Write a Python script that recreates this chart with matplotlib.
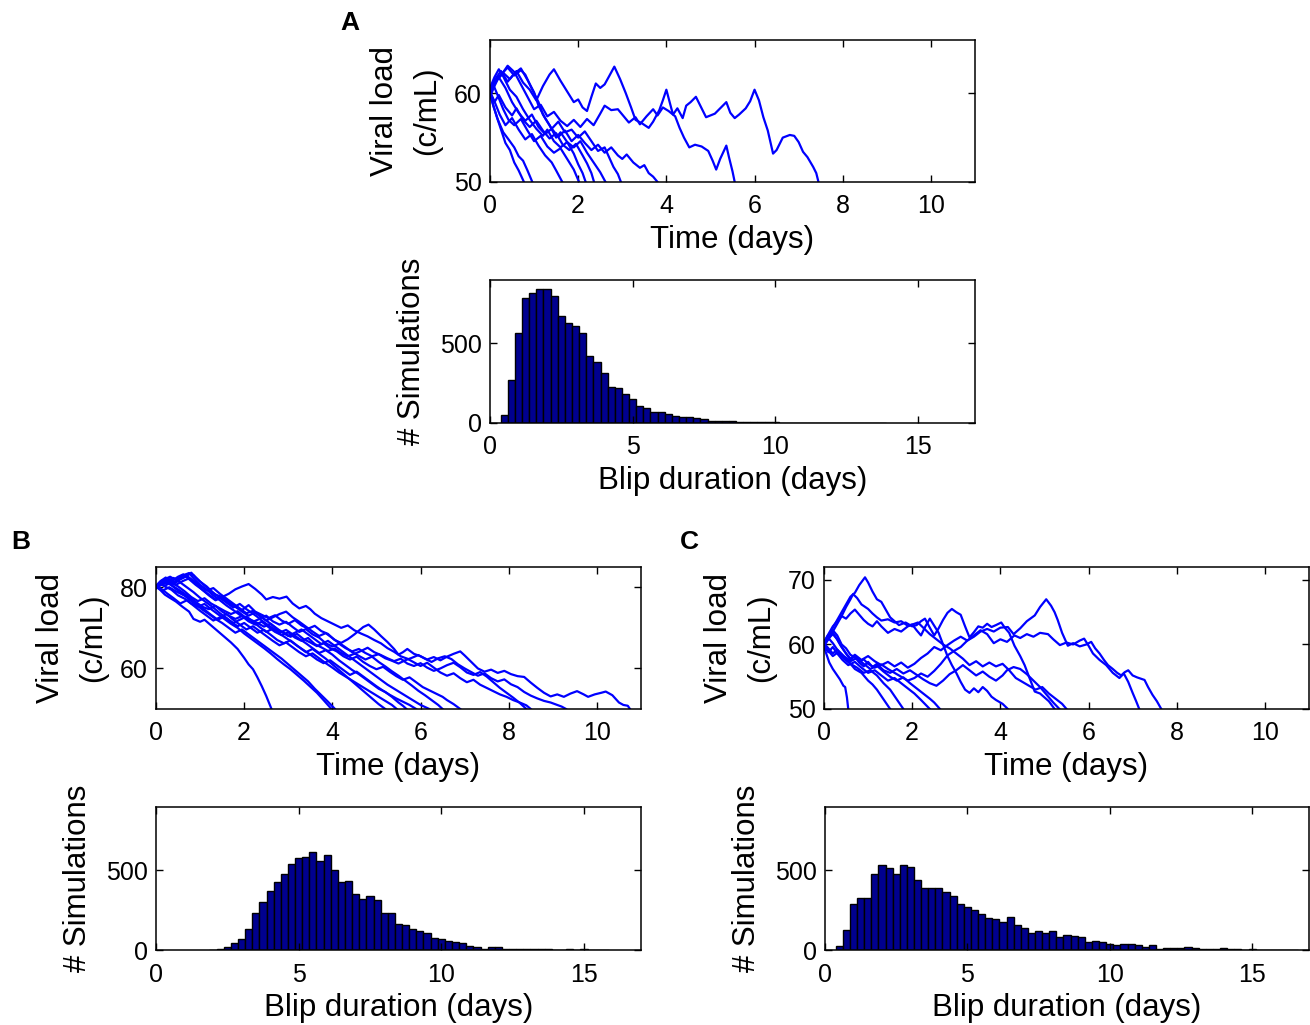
import numpy as np
import matplotlib
matplotlib.use("Agg")
import matplotlib.pyplot as plt

plt.rcParams['font.family'] = ['Liberation Sans', 'DejaVu Sans']

# ---------------- Panel A : trajectories (time, viral load) ----------------
A1 = [(0,60.2),(0.15,61.5),(0.3,62.3),(0.45,61.6),(0.6,62.5),(0.75,61.2),(0.9,60.4),(1.05,59.2),(1.2,60.8),(1.35,62.1),(1.45,62.7),(1.6,61.4),(1.75,60.2),(1.9,59.0),(2.0,59.3),(2.1,58.4),(2.2,58.0),(2.3,59.6),(2.4,61.1),(2.5,60.6),(2.6,61.0),(2.7,61.9),(2.82,63.0),(2.95,61.6),(3.08,60.0),(3.2,58.4),(3.3,57.0),(3.45,56.6),(3.6,56.1),(3.7,56.8),(3.84,58.1),(3.92,59.2),(4.0,60.4),(4.08,58.9),(4.15,57.6),(4.25,58.3),(4.37,57.2),(4.45,58.6),(4.55,59.0),(4.67,59.6),(4.78,58.5),(4.9,57.3),(5.0,57.5),(5.1,57.7),(5.2,58.2),(5.36,59.0),(5.45,57.8),(5.55,57.2),(5.65,57.6),(5.8,58.3),(5.9,59.1),(6.0,60.4),(6.1,59.2),(6.2,57.3),(6.3,55.8),(6.42,53.2),(6.5,53.6),(6.64,55.0),(6.8,55.3),(6.9,55.2),(7.0,54.5),(7.1,53.4),(7.2,52.8),(7.33,51.7),(7.4,51.0),(7.45,50.0)]
A2 = [(0,60.0),(0.1,61.2),(0.25,62.0),(0.4,63.1),(0.55,62.4),(0.7,61.0),(0.85,59.6),(1.0,58.2),(1.15,58.7),(1.3,57.4),(1.45,57.9),(1.6,56.9),(1.75,56.3),(1.9,57.0),(2.05,56.2),(2.2,57.1),(2.35,56.4),(2.5,57.7),(2.6,58.6),(2.75,58.1),(2.9,58.2),(3.0,57.6),(3.15,56.7),(3.3,57.3),(3.4,56.5),(3.55,57.4),(3.7,58.2),(3.8,57.5),(3.92,58.4),(4.05,58.0),(4.2,57.4),(4.3,56.1),(4.4,55.0),(4.52,53.9),(4.65,54.2),(4.8,54.0),(4.95,53.5),(5.05,52.4),(5.13,51.4),(5.22,52.6),(5.36,54.1),(5.42,52.8),(5.5,51.2),(5.55,50.0)]
A3 = [(0,59.6),(0.1,60.8),(0.2,61.8),(0.35,60.6),(0.5,59.0),(0.65,57.8),(0.8,56.9),(0.95,57.6),(1.1,56.2),(1.25,55.4),(1.4,56.0),(1.55,55.1),(1.7,55.8),(1.85,54.6),(2.0,55.3),(2.15,54.4),(2.3,53.6),(2.45,54.2),(2.6,53.3),(2.75,53.9),(2.9,53.0),(3.0,52.6),(3.1,53.1),(3.25,52.2),(3.4,51.6),(3.5,51.9),(3.6,51.0),(3.7,50.6),(3.8,50.0)]
A4 = [(0,60.4),(0.12,61.6),(0.25,62.5),(0.4,61.3),(0.55,62.2),(0.7,62.8),(0.85,61.5),(1.0,60.1),(1.1,58.6),(1.25,57.2),(1.4,56.0),(1.55,56.8),(1.7,55.6),(1.85,55.9),(2.0,55.0),(2.15,55.7),(2.3,54.6),(2.45,53.5),(2.6,53.9),(2.7,52.8),(2.8,51.7),(2.9,50.9),(2.97,50.0)]
A5 = [(0,60.0),(0.1,59.0),(0.2,59.8),(0.35,58.4),(0.5,57.5),(0.6,58.3),(0.75,57.0),(0.9,56.2),(1.05,56.9),(1.2,55.8),(1.35,54.9),(1.5,55.5),(1.65,54.2),(1.8,53.6),(1.95,54.3),(2.1,53.0),(2.2,52.1),(2.3,51.0),(2.36,50.0)]
A6 = [(0,60.6),(0.1,61.8),(0.2,62.7),(0.3,61.9),(0.45,60.4),(0.6,59.6),(0.75,58.2),(0.9,57.0),(1.05,56.0),(1.2,55.2),(1.3,55.9),(1.45,54.6),(1.6,53.9),(1.75,54.5),(1.9,53.2),(2.0,52.0),(2.1,51.0),(2.17,50.0)]
A7 = [(0,59.8),(0.08,60.9),(0.18,59.7),(0.3,58.2),(0.42,57.0),(0.55,56.4),(0.7,57.1),(0.85,55.8),(1.0,54.6),(1.15,55.2),(1.3,54.0),(1.45,53.3),(1.6,53.8),(1.75,52.6),(1.9,51.4),(2.02,50.0)]
A8 = [(0,60.2),(0.1,59.1),(0.22,57.6),(0.35,56.4),(0.5,57.2),(0.65,55.9),(0.8,54.8),(0.95,55.4),(1.1,54.1),(1.25,53.0),(1.4,52.2),(1.5,51.3),(1.64,50.0)]
A9 = [(0,59.9),(0.08,58.5),(0.18,57.0),(0.3,55.6),(0.42,54.8),(0.55,53.9),(0.65,52.9),(0.75,52.4),(0.85,51.3),(0.96,50.0)]
A10 = [(0,60.1),(0.06,58.9),(0.15,57.4),(0.25,55.9),(0.35,54.4),(0.45,53.6),(0.55,52.2),(0.65,51.3),(0.77,50.0)]
A11 = [(0,60.3),(0.12,61.4),(0.25,62.1),(0.4,62.9),(0.55,62.0),(0.7,62.6),(0.8,62.1),(0.95,60.5),(1.1,59.0),(1.2,57.6),(1.35,56.4),(1.5,55.0),(1.6,55.6),(1.75,54.5),(1.9,53.9),(2.05,54.6),(2.2,53.3),(2.35,52.2),(2.5,51.1),(2.62,50.0)]
A_paths = [A1, A2, A3, A4, A5, A6, A7, A8, A9, A10, A11]

# ---------------- Panel B : trajectories ----------------
B1 = [(0,80.0),(0.15,80.8),(0.3,81.2),(0.45,80.6),(0.6,81.5),(0.75,82.2),(0.9,81.0),(1.05,79.4),(1.2,78.0),(1.35,76.8),(1.5,77.5),(1.65,76.0),(1.8,75.2),(1.95,74.4),(2.1,75.6),(2.25,74.0),(2.4,73.2),(2.55,72.4),(2.7,73.1),(2.85,71.8),(3.0,71.0),(3.15,71.9),(3.3,70.6),(3.45,69.8),(3.6,70.5),(3.75,69.2),(3.9,68.5),(4.05,67.0),(4.2,66.3),(4.35,67.2),(4.5,68.4),(4.6,69.3),(4.7,70.2),(4.82,70.8),(4.95,69.6),(5.1,68.0),(5.25,66.5),(5.4,64.8),(5.5,63.4),(5.6,64.0),(5.7,64.8),(5.85,63.6),(6.0,63.0),(6.15,62.2),(6.3,62.8),(6.45,62.0),(6.6,62.9),(6.75,63.6),(6.9,64.2),(7.0,63.2),(7.15,61.6),(7.3,60.0),(7.45,59.2),(7.6,59.7),(7.75,58.9),(7.9,59.4),(8.05,58.6),(8.2,58.1),(8.35,57.9),(8.5,56.5),(8.65,55.2),(8.8,54.0),(8.95,53.1),(9.1,53.6),(9.25,53.0),(9.4,53.8),(9.55,54.4),(9.7,53.6),(9.8,53.0),(9.95,53.6),(10.1,54.0),(10.2,54.3),(10.35,53.4),(10.5,51.6),(10.6,51.0),(10.7,50.8),(10.75,50.0)]
B2 = [(0,80.2),(0.15,81.4),(0.3,82.0),(0.45,81.3),(0.6,82.6),(0.75,83.4),(0.85,83.0),(1.0,81.4),(1.15,80.2),(1.3,78.6),(1.45,77.4),(1.6,76.2),(1.75,75.0),(1.9,75.9),(2.05,74.6),(2.2,73.5),(2.35,72.3),(2.5,73.0),(2.65,71.6),(2.8,70.8),(2.95,71.5),(3.1,70.2),(3.25,69.0),(3.4,69.7),(3.55,68.4),(3.7,67.6),(3.85,66.2),(4.0,65.4),(4.15,66.1),(4.3,65.0),(4.45,64.2),(4.6,64.8),(4.75,63.8),(4.9,63.0),(5.05,63.5),(5.2,62.5),(5.35,61.9),(5.5,61.2),(5.65,62.0),(5.8,62.6),(5.95,63.3),(6.1,62.4),(6.25,61.6),(6.4,62.5),(6.55,63.0),(6.7,62.3),(6.85,61.0),(7.0,60.0),(7.15,59.1),(7.3,58.2),(7.45,58.8),(7.6,57.6),(7.75,56.8),(7.9,57.3),(8.05,56.1),(8.2,55.4),(8.35,54.2),(8.5,53.3),(8.65,52.6),(8.8,52.0),(8.95,51.6),(9.1,51.0),(9.2,50.6),(9.3,50.0)]
B3 = [(0,79.8),(0.1,80.6),(0.25,81.5),(0.4,80.8),(0.55,82.0),(0.7,82.8),(0.8,83.6),(0.9,82.4),(1.05,80.9),(1.2,79.5),(1.35,78.2),(1.5,77.6),(1.65,78.4),(1.8,79.5),(1.95,80.2),(2.1,80.8),(2.25,79.6),(2.4,78.2),(2.5,77.0),(2.65,77.6),(2.8,77.2),(2.96,77.7),(3.1,76.0),(3.25,74.8),(3.4,75.4),(3.5,74.6),(3.6,73.5),(3.75,72.4),(3.9,71.6),(4.05,70.8),(4.2,70.0),(4.35,70.6),(4.5,69.4),(4.65,68.6),(4.8,67.9),(4.95,67.0),(5.1,66.2),(5.25,65.0),(5.4,64.1),(5.55,63.0),(5.7,62.4),(5.85,61.5),(6.0,60.6),(6.15,61.4),(6.3,60.2),(6.45,59.0),(6.6,58.2),(6.75,58.8),(6.9,57.6),(7.05,56.6),(7.2,57.2),(7.35,56.0),(7.5,55.2),(7.65,54.4),(7.8,53.6),(7.95,53.0),(8.1,52.2),(8.25,51.6),(8.4,50.9),(8.5,50.0)]
B4 = [(0,80.1),(0.15,79.2),(0.3,80.0),(0.45,79.0),(0.6,78.2),(0.75,77.5),(0.9,76.4),(1.05,75.2),(1.2,74.6),(1.35,75.4),(1.5,74.0),(1.65,73.0),(1.8,72.2),(1.95,72.9),(2.1,71.6),(2.25,70.8),(2.4,71.5),(2.55,70.2),(2.7,69.0),(2.85,68.2),(3.0,68.9),(3.15,67.6),(3.3,66.8),(3.45,67.5),(3.6,66.0),(3.75,65.2),(3.9,64.3),(4.05,64.9),(4.2,63.8),(4.35,63.0),(4.5,63.6),(4.65,64.3),(4.8,65.1),(4.95,64.0),(5.1,63.3),(5.25,62.5),(5.4,61.8),(5.55,62.4),(5.7,61.2),(5.85,60.6),(6.0,61.3),(6.15,60.2),(6.3,59.4),(6.45,60.0),(6.6,60.8),(6.75,61.4),(6.9,60.3),(7.05,59.0),(7.2,58.4),(7.35,59.1),(7.5,58.0),(7.65,56.6),(7.8,55.2),(7.95,54.0),(8.1,52.8),(8.25,51.5),(8.4,50.0)]
B5 = [(0,80.0),(0.1,81.0),(0.2,80.4),(0.35,81.2),(0.5,80.2),(0.65,79.0),(0.8,77.6),(0.95,76.6),(1.1,77.3),(1.25,76.0),(1.4,75.1),(1.55,74.2),(1.7,73.4),(1.85,74.1),(2.0,72.8),(2.15,72.0),(2.3,71.2),(2.45,70.3),(2.6,71.0),(2.75,69.6),(2.9,68.8),(3.05,67.8),(3.2,68.5),(3.35,67.2),(3.5,66.4),(3.65,65.5),(3.8,66.2),(3.95,65.0),(4.1,64.2),(4.25,63.0),(4.4,62.2),(4.55,62.9),(4.7,61.6),(4.85,60.6),(5.0,59.8),(5.15,60.4),(5.3,59.2),(5.45,58.1),(5.6,57.2),(5.75,57.8),(5.9,56.6),(6.05,55.4),(6.2,54.6),(6.35,53.8),(6.5,53.0),(6.6,52.2),(6.75,51.2),(6.9,50.0)]
B6 = [(0,80.3),(0.12,81.6),(0.25,82.2),(0.4,81.0),(0.55,82.0),(0.7,82.8),(0.85,81.6),(1.0,80.4),(1.15,79.2),(1.3,79.8),(1.45,78.4),(1.6,77.2),(1.75,76.0),(1.9,74.8),(2.05,73.6),(2.2,74.2),(2.35,73.0),(2.5,71.8),(2.65,72.6),(2.8,73.4),(2.95,74.0),(3.1,72.6),(3.25,71.5),(3.4,70.3),(3.55,69.1),(3.7,68.0),(3.85,68.7),(4.0,67.5),(4.15,66.3),(4.3,65.2),(4.45,64.0),(4.6,63.1),(4.75,62.2),(4.9,62.9),(5.05,61.6),(5.2,60.5),(5.35,59.3),(5.5,58.2),(5.65,57.0),(5.8,55.8),(5.95,54.5),(6.1,53.4),(6.25,52.2),(6.4,51.0),(6.5,50.0)]
B7 = [(0,79.7),(0.1,80.6),(0.22,81.3),(0.35,80.5),(0.5,79.5),(0.65,78.4),(0.8,77.0),(0.95,75.8),(1.1,74.5),(1.25,73.2),(1.4,72.0),(1.55,72.8),(1.7,71.5),(1.85,70.4),(2.0,71.2),(2.15,70.0),(2.3,68.8),(2.45,69.5),(2.6,68.3),(2.75,67.0),(2.9,66.2),(3.05,66.9),(3.2,65.6),(3.35,64.5),(3.5,63.4),(3.65,62.2),(3.8,61.3),(3.95,62.0),(4.1,60.8),(4.25,59.6),(4.4,58.4),(4.55,59.2),(4.7,58.0),(4.85,56.8),(5.0,55.6),(5.15,54.5),(5.3,53.5),(5.45,52.6),(5.6,51.8),(5.75,51.0),(5.9,50.0)]
B8 = [(0,80.0),(0.1,81.2),(0.2,82.0),(0.32,82.6),(0.45,81.8),(0.6,82.9),(0.75,83.5),(0.85,82.2),(1.0,80.6),(1.15,79.4),(1.3,78.0),(1.45,76.8),(1.6,75.5),(1.75,74.4),(1.9,73.2),(2.05,72.4),(2.2,71.5),(2.35,72.2),(2.5,71.0),(2.65,69.9),(2.8,68.8),(2.95,69.5),(3.1,68.4),(3.25,67.3),(3.4,66.2),(3.55,65.0),(3.7,63.8),(3.85,64.5),(4.0,63.4),(4.15,62.0),(4.3,60.8),(4.45,59.6),(4.6,58.6),(4.75,57.4),(4.9,56.2),(5.05,55.0),(5.2,54.2),(5.35,53.0),(5.5,51.6),(5.6,50.8),(5.68,50.0)]
B9 = [(0,80.4),(0.12,79.6),(0.25,78.5),(0.4,77.3),(0.55,76.0),(0.7,76.8),(0.85,75.5),(1.0,74.2),(1.15,73.0),(1.3,71.8),(1.45,72.6),(1.6,73.4),(1.75,72.0),(1.9,70.8),(2.05,69.6),(2.2,70.4),(2.35,69.2),(2.5,68.0),(2.65,66.8),(2.8,65.7),(2.95,66.4),(3.1,65.2),(3.25,64.0),(3.4,63.0),(3.55,63.7),(3.7,62.5),(3.85,61.3),(4.0,60.2),(4.15,59.0),(4.3,58.0),(4.45,57.0),(4.6,56.0),(4.75,55.0),(4.9,54.0),(5.05,53.0),(5.2,52.0),(5.35,51.0),(5.46,50.0)]
B10 = [(0,80.1),(0.1,81.0),(0.2,81.8),(0.32,80.8),(0.45,79.6),(0.6,78.4),(0.75,77.0),(0.9,75.8),(1.05,74.5),(1.2,73.4),(1.35,72.2),(1.5,71.2),(1.65,70.0),(1.8,68.8),(1.95,69.6),(2.1,68.4),(2.25,67.2),(2.4,66.0),(2.55,64.8),(2.7,63.6),(2.85,62.4),(3.0,61.0),(3.15,59.6),(3.3,58.2),(3.45,56.8),(3.6,55.0),(3.75,53.4),(3.9,51.8),(4.06,50.0)]
B11 = [(0,79.9),(0.1,80.8),(0.2,80.2),(0.35,79.4),(0.5,78.0),(0.65,77.2),(0.8,76.0),(0.95,75.2),(1.1,75.9),(1.25,74.6),(1.4,73.4),(1.55,72.2),(1.7,71.0),(1.85,70.0),(2.0,68.6),(2.15,67.4),(2.3,66.2),(2.45,65.0),(2.6,63.7),(2.75,62.3),(2.9,61.0),(3.05,59.8),(3.2,58.4),(3.35,57.0),(3.5,55.5),(3.65,54.0),(3.8,52.2),(3.98,50.0)]
B12 = [(0,80.2),(0.1,79.3),(0.2,78.2),(0.3,77.5),(0.45,76.5),(0.6,75.2),(0.75,74.0),(0.85,72.2),(1.0,71.5),(1.1,72.0),(1.25,70.6),(1.4,69.2),(1.55,67.8),(1.7,66.4),(1.85,64.8),(2.0,62.6),(2.1,61.0),(2.2,59.8),(2.3,57.8),(2.4,55.6),(2.5,53.2),(2.62,50.0)]
B13 = [(0,80.0),(0.12,80.9),(0.25,81.6),(0.4,82.3),(0.55,81.2),(0.7,80.0),(0.85,78.8),(1.0,77.4),(1.15,76.2),(1.3,75.0),(1.45,73.6),(1.6,72.4),(1.75,71.2),(1.9,72.0),(2.05,72.8),(2.2,71.5),(2.35,70.2),(2.5,69.0),(2.65,69.8),(2.8,68.6),(2.95,67.5),(3.1,66.4),(3.25,65.2),(3.4,64.0),(3.55,64.8),(3.7,63.6),(3.85,62.4),(4.0,61.0),(4.15,59.6),(4.3,58.2),(4.45,56.8),(4.6,55.4),(4.75,54.0),(4.9,52.6),(5.05,51.2),(5.2,50.0)]
B14 = [(0,80.3),(0.1,81.5),(0.22,82.4),(0.35,81.5),(0.5,82.6),(0.62,83.2),(0.75,82.0),(0.9,80.6),(1.05,79.4),(1.2,78.2),(1.35,77.0),(1.5,77.8),(1.65,76.5),(1.8,75.2),(1.95,74.0),(2.1,73.0),(2.25,73.8),(2.4,72.6),(2.55,71.4),(2.7,70.2),(2.85,69.0),(3.0,68.0),(3.15,68.8),(3.3,69.6),(3.45,68.4),(3.6,67.2),(3.75,66.0),(3.9,66.8),(4.05,65.6),(4.2,64.4),(4.35,63.2),(4.5,62.0),(4.65,60.8),(4.8,59.6),(4.95,58.4),(5.1,57.2),(5.25,56.0),(5.4,55.0),(5.55,54.0),(5.7,53.0),(5.85,52.0),(6.0,51.0),(6.1,50.5),(6.2,50.0)]
B_paths = [B1, B2, B3, B4, B5, B6, B7, B8, B9, B10, B11, B12, B13, B14]

# ---------------- Panel C : trajectories ----------------
C1 = [(0,60.0),(0.1,61.2),(0.2,62.6),(0.3,63.8),(0.4,65.0),(0.5,66.2),(0.6,67.4),(0.7,68.0),(0.8,69.2),(0.93,70.4),(1.0,69.6),(1.1,68.2),(1.2,67.0),(1.3,66.6),(1.4,65.4),(1.5,64.2),(1.6,63.6),(1.7,63.0),(1.85,63.4),(2.0,62.8),(2.1,63.0),(2.2,63.6),(2.29,64.0),(2.4,62.6),(2.5,61.4),(2.6,62.5),(2.7,63.8),(2.8,64.9),(2.9,65.5),(3.0,65.0),(3.1,64.6),(3.2,62.8),(3.3,61.1),(3.4,61.9),(3.5,62.8),(3.6,62.6),(3.7,63.2),(3.8,62.7),(3.9,63.0),(4.02,63.4),(4.1,62.6),(4.2,61.8),(4.32,59.8),(4.45,58.2),(4.55,56.8),(4.65,55.0),(4.78,52.7),(4.9,52.4),(5.0,51.8),(5.1,51.2),(5.23,50.0)]
C2 = [(0,59.8),(0.1,60.8),(0.2,62.0),(0.3,63.2),(0.4,64.4),(0.5,65.8),(0.6,67.0),(0.66,67.8),(0.75,67.2),(0.85,66.2),(1.0,65.5),(1.1,64.8),(1.2,64.2),(1.3,63.7),(1.45,63.9),(1.6,63.4),(1.75,63.6),(1.9,62.9),(2.0,63.1),(2.1,62.2),(2.2,61.4),(2.3,62.8),(2.4,64.0),(2.5,62.9),(2.6,61.8),(2.7,60.0),(2.8,58.2),(2.9,56.8),(3.0,55.6),(3.1,54.2),(3.2,53.0),(3.3,52.5),(3.4,53.2),(3.5,52.6),(3.6,53.4),(3.7,52.8),(3.8,51.9),(3.9,51.4),(4.05,50.8),(4.17,50.0)]
C3 = [(0,60.2),(0.1,61.4),(0.2,62.2),(0.3,61.4),(0.4,60.0),(0.5,59.4),(0.6,58.4),(0.7,58.0),(0.8,57.3),(0.9,57.7),(1.0,57.0),(1.15,56.4),(1.3,56.9),(1.45,56.2),(1.6,55.6),(1.75,55.0),(1.9,54.4),(2.05,54.8),(2.2,55.5),(2.35,55.0),(2.5,55.9),(2.65,57.0),(2.8,58.3),(2.95,59.0),(3.1,59.6),(3.25,60.6),(3.4,61.2),(3.55,62.0),(3.7,62.4),(3.85,62.0),(4.0,62.6),(4.17,62.7),(4.3,61.6),(4.45,62.5),(4.6,63.6),(4.78,64.5),(4.9,65.8),(5.04,67.0),(5.15,66.0),(5.23,65.0),(5.3,63.8),(5.4,61.8),(5.53,59.8),(5.65,60.2),(5.8,59.7),(5.95,60.0),(6.06,60.4),(6.15,59.4),(6.25,58.6),(6.35,57.6),(6.44,56.8),(6.55,56.2),(6.65,55.6),(6.74,55.2),(6.82,55.7),(6.9,56.0),(7.0,55.2),(7.1,54.9),(7.27,54.5),(7.35,53.4),(7.45,52.2),(7.55,51.2),(7.65,50.0)]
C4 = [(0,59.9),(0.1,60.9),(0.2,61.6),(0.3,60.8),(0.4,59.6),(0.5,58.6),(0.6,57.8),(0.7,58.4),(0.85,57.6),(1.0,58.2),(1.15,57.4),(1.3,56.8),(1.45,57.3),(1.6,56.6),(1.75,57.2),(1.9,56.4),(2.05,57.0),(2.2,57.9),(2.35,58.6),(2.5,59.6),(2.65,59.1),(2.8,59.9),(2.95,60.6),(3.1,61.2),(3.25,60.6),(3.4,61.4),(3.55,62.2),(3.7,61.6),(3.85,60.2),(4.0,60.8),(4.15,60.4),(4.32,61.4),(4.45,61.0),(4.6,61.6),(4.75,61.2),(4.9,61.8),(5.08,61.6),(5.2,60.8),(5.35,59.9),(5.5,60.3),(5.65,60.0),(5.8,60.6),(5.9,60.9),(6.0,59.8),(6.1,58.6),(6.25,57.6),(6.4,56.8),(6.55,55.6),(6.7,54.8),(6.8,55.5),(6.9,54.2),(7.0,52.5),(7.08,51.2),(7.15,50.0)]
C5 = [(0,60.1),(0.08,61.3),(0.18,62.0),(0.28,61.0),(0.38,59.8),(0.5,58.6),(0.6,57.6),(0.7,58.2),(0.8,57.2),(0.9,56.6),(1.0,57.3),(1.1,56.5),(1.2,57.0),(1.35,56.0),(1.5,55.6),(1.65,56.2),(1.8,55.5),(1.95,56.0),(2.1,55.3),(2.25,54.6),(2.4,54.0),(2.55,53.6),(2.7,54.4),(2.85,55.4),(3.0,56.0),(3.15,56.8),(3.3,56.0),(3.45,55.2),(3.6,55.8),(3.75,55.0),(3.9,54.4),(4.05,55.2),(4.15,56.0),(4.3,56.5),(4.45,56.2),(4.6,55.4),(4.75,54.4),(4.9,53.4),(5.0,52.6),(5.1,51.8),(5.2,51.0),(5.34,50.0)]
C6 = [(0,60.3),(0.1,61.0),(0.2,60.2),(0.3,59.2),(0.45,58.2),(0.6,57.4),(0.75,57.9),(0.9,57.0),(1.05,56.2),(1.2,56.7),(1.35,55.8),(1.5,55.0),(1.65,54.4),(1.8,54.9),(1.95,54.0),(2.1,53.2),(2.25,52.4),(2.4,51.6),(2.5,51.0),(2.63,50.0)]
C7 = [(0,59.7),(0.1,58.8),(0.2,59.6),(0.3,58.6),(0.42,57.6),(0.55,56.8),(0.7,57.3),(0.85,56.4),(1.0,55.6),(1.15,56.0),(1.3,55.2),(1.45,54.4),(1.6,54.8),(1.75,54.0),(1.9,53.2),(2.05,52.4),(2.2,51.4),(2.4,50.0)]
C8 = [(0,60.0),(0.1,59.0),(0.2,58.2),(0.32,58.8),(0.45,57.8),(0.6,57.0),(0.75,56.4),(0.9,55.6),(1.05,56.0),(1.2,55.2),(1.35,54.0),(1.5,53.0),(1.6,52.0),(1.7,51.0),(1.8,50.0)]
C9 = [(0,60.2),(0.1,59.4),(0.2,58.6),(0.3,59.2),(0.4,58.4),(0.55,57.4),(0.7,56.2),(0.85,55.6),(1.0,54.4),(1.1,53.8),(1.2,53.0),(1.3,52.0),(1.4,51.0),(1.5,50.0)]
C10 = [(0,59.6),(0.06,58.4),(0.12,57.2),(0.2,56.2),(0.28,55.4),(0.36,54.6),(0.44,53.6),(0.48,53.4),(0.52,51.8),(0.55,50.0)]
C11 = [(0,60.4),(0.1,61.6),(0.2,62.8),(0.3,63.6),(0.4,64.4),(0.5,64.0),(0.6,64.8),(0.7,65.4),(0.8,64.6),(0.9,63.8),(1.0,63.2),(1.1,62.8),(1.2,63.6),(1.3,62.8),(1.45,61.8),(1.6,62.4),(1.75,62.0),(1.9,62.8),(2.05,63.2),(2.13,63.4),(2.25,62.6),(2.4,61.6),(2.55,60.8),(2.7,60.0),(2.85,59.4),(3.0,58.6),(3.15,57.8),(3.3,56.8),(3.45,57.4),(3.6,56.6),(3.75,57.2),(3.9,56.6),(4.05,57.0),(4.2,56.0),(4.35,54.8),(4.5,54.2),(4.65,53.6),(4.8,53.0),(4.95,53.4),(5.1,52.4),(5.25,51.6),(5.4,50.8),(5.5,50.0)]
C_paths = [C1, C2, C3, C4, C5, C6, C7, C8, C9, C10, C11]

# ---------------- Histograms of blip duration ----------------
BIN_W = 0.25
A_first_center = 0.5
A_counts = [48, 266, 566, 784, 811, 838, 838, 795, 670, 624, 604, 564, 421, 384, 311, 224, 218, 183,
            149, 106, 95, 66, 66, 54, 46, 39, 39, 29, 25, 15, 12, 15, 15, 8, 4, 4, 6, 8, 4,
            3, 2, 3, 2, 1, 2, 1, 1, 0, 1, 0, 1, 0, 0, 1]
B_first_center = 2.0
B_counts = [2, 4, 17, 43, 67, 133, 230, 303, 367, 427, 474, 536, 575, 579, 614, 558, 597, 500, 427,
            429, 352, 322, 339, 311, 230, 230, 163, 157, 129, 122, 107, 75, 67, 58, 49, 43, 24, 21,
            4, 17, 17, 9, 9, 9, 6, 4, 6, 4, 2, 2, 4, 2, 6, 2, 2, 1]
C_first_center = 0.5
C_counts = [23, 123, 286, 328, 328, 477, 532, 513, 477, 532, 521, 441, 390, 390, 390, 360, 341, 286,
            267, 250, 225, 199, 193, 174, 208, 159, 136, 108, 121, 104, 121, 81, 97, 87, 83, 51, 55,
            47, 40, 32, 40, 36, 32, 17, 34, 6, 13, 13, 13, 17, 11, 4, 4, 4, 11, 6, 6, 2, 8, 2, 2,
            2, 1, 1, 1]

# ---------------- Axis settings ----------------
A_line_ylim = (50, 66)
B_line_ylim = (50, 85)
C_line_ylim = (50, 72)
A_line_yticks = [50, 60]
B_line_yticks = [60, 80]
C_line_yticks = [50, 60, 70]
line_xlim = (0, 11)
line_xticks = [0, 2, 4, 6, 8, 10]
hist_xlim = (0, 17)
hist_xticks = [0, 5, 10, 15]
hist_ylim = (0, 895)
hist_yticks = [0, 500]

LINE_COLOR = '#0000ff'
BAR_COLOR = '#00008f'
TICK_FS = 18
LABEL_FS = 22.5

W, H = 1310, 1025
fig = plt.figure(figsize=(W / 100, H / 100), dpi=100)


def px_axes(x0, y0, x1, y1):
    return fig.add_axes([x0 / W, 1 - y1 / H, (x1 - x0) / W, (y1 - y0) / H])


def style(ax):
    ax.tick_params(direction='in', top=True, right=True, length=5, width=1,
                   labelsize=TICK_FS)
    ax.tick_params(axis='x', pad=9)
    ax.tick_params(axis='y', pad=6)
    for s in ax.spines.values():
        s.set_linewidth(1.1)


def line_panel(ax, paths, ylim, yticks):
    for p in paths:
        t = [q[0] for q in p]
        v = [q[1] for q in p]
        ax.plot(t, v, color=LINE_COLOR, lw=1.6)
    ax.set_xlim(*line_xlim)
    ax.set_ylim(*ylim)
    ax.set_xticks(line_xticks)
    ax.set_yticks(yticks)
    style(ax)
    ax.set_xlabel('Time (days)', fontsize=LABEL_FS, labelpad=5)
    ax.set_ylabel('Viral load\n(c/mL)', fontsize=LABEL_FS, linespacing=1.5)
    ax.yaxis.set_label_coords(-0.099, 0.5)


def hist_panel(ax, first_center, counts):
    centers = first_center + BIN_W * np.arange(len(counts))
    ax.bar(centers, counts, width=BIN_W, color=BAR_COLOR, edgecolor='black', linewidth=1.0)
    ax.set_xlim(*hist_xlim)
    ax.set_ylim(*hist_ylim)
    ax.set_xticks(hist_xticks)
    ax.set_yticks(hist_yticks)
    style(ax)
    ax.set_xlabel('Blip duration (days)', fontsize=LABEL_FS, labelpad=5)
    ax.set_ylabel('# Simulations', fontsize=LABEL_FS)
    ax.yaxis.set_label_coords(-0.13, 0.5)


axA1 = px_axes(490, 40, 975, 182)
line_panel(axA1, A_paths, A_line_ylim, A_line_yticks)
axA2 = px_axes(490, 280, 975, 423)
hist_panel(axA2, A_first_center, A_counts)

axB1 = px_axes(156, 567, 641, 709)
line_panel(axB1, B_paths, B_line_ylim, B_line_yticks)
axB2 = px_axes(156, 807, 641, 950)
hist_panel(axB2, B_first_center, B_counts)

axC1 = px_axes(824, 567, 1309, 709)
line_panel(axC1, C_paths, C_line_ylim, C_line_yticks)
axC2 = px_axes(825, 807, 1309, 950)
hist_panel(axC2, C_first_center, C_counts)

fig.text(340 / W, 1 - 11 / H, 'A', fontsize=19, fontweight='bold', va='top', ha='left')
fig.text(11 / W, 1 - 530 / H, 'B', fontsize=19, fontweight='bold', va='top', ha='left')
fig.text(680 / W, 1 - 530 / H, 'C', fontsize=19, fontweight='bold', va='top', ha='left')

fig.savefig('out.png', dpi=100, facecolor='white')
